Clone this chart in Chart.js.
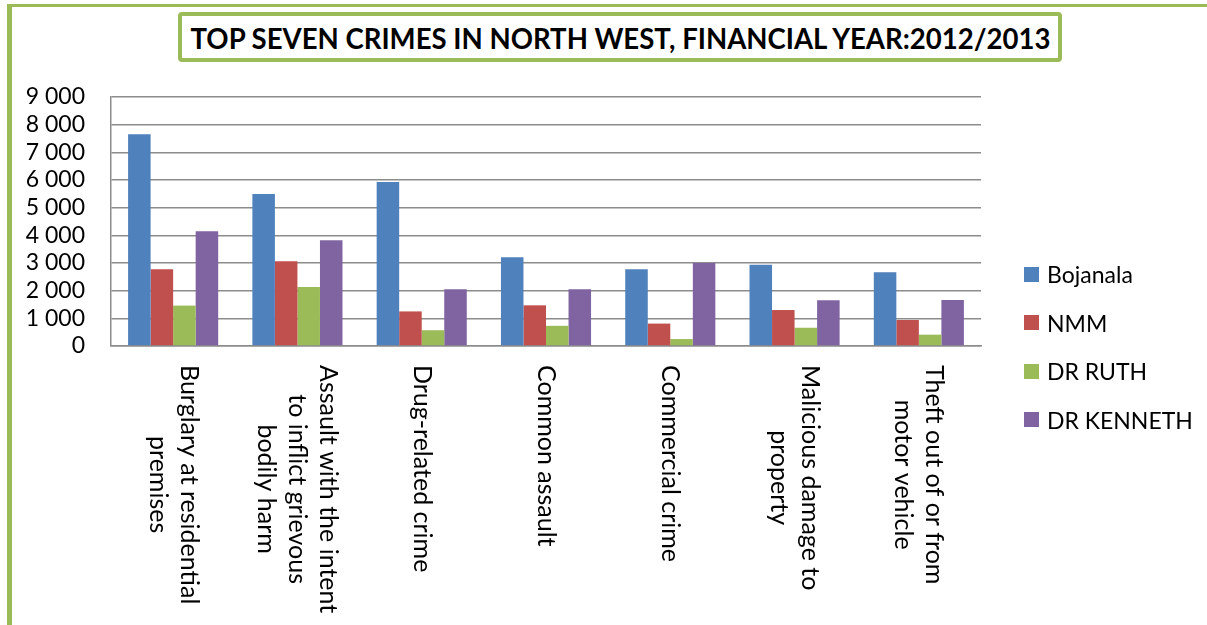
<!DOCTYPE html>
<html lang="en">
<head>
    <meta charset="UTF-8">
    <title>Top seven crimes in North West</title>
    <script src="https://cdn.jsdelivr.net/npm/chart.js"></script>
    <style>
        body {
            margin: 0;
            width: 1207px;
            height: 625px;
            overflow: hidden;
            background: #fff;
            font-family: Lato, "Open Sans", sans-serif;
            position: relative;
        }
        /* green frame round the whole chart, runs off the right edge */
        .frame {
            position: absolute;
            left: 7px;
            top: 4px;
            width: 1300px;
            height: 618px;
            border-left: 5px solid #9bbb59;
            border-top: 3px solid #9bbb59;
            border-bottom: 3px solid #9bbb59;
            box-sizing: content-box;
        }
        canvas {
            position: absolute;
            left: 0;
            top: 0;
        }
        .title-box {
            position: absolute;
            left: 178px;
            top: 12px;
            width: 884px;
            height: 50px;
            box-sizing: border-box;
            border: 4px solid #9bbb59;
            border-radius: 4px;
            background: #fff;
            display: flex;
            align-items: center;
            justify-content: center;
            overflow: hidden;
        }
        .title-box span {
            font-weight: bold;
            font-size: 29px;
            color: #000;
            white-space: nowrap;
            display: inline-block;
            transform-origin: center;
        }
        .legend {
            position: absolute;
            left: 1024px;
            top: 250px;
        }
        .legend div {
            height: 48.5px;
            display: flex;
            align-items: center;
            font-size: 23px;
            color: #000;
        }
        .legend i {
            width: 15px;
            height: 15px;
            margin-right: 8px;
            display: inline-block;
        }
    </style>
</head>
<body>
    <div class="frame"></div>
    <canvas id="crimeChart" width="1207" height="625"></canvas>
    <div class="title-box"><span id="title">TOP SEVEN CRIMES IN NORTH WEST, FINANCIAL YEAR:2012/2013</span></div>
    <div class="legend" id="legend"></div>

    <script>
        // categories (already split into lines the way they wrap in the picture)
        const categories = [
            ['Burglary at residential', 'premises'],
            ['Assault with the intent', 'to inflict grievous', 'bodily harm'],
            ['Drug-related crime'],
            ['Common assault'],
            ['Commercial crime'],
            ['Malicious damage to', 'property'],
            ['Theft out of or from', 'motor vehicle']
        ];

        const bojanala   = [7650, 5490, 5930, 3210, 2770, 2940, 2670];
        const nmm        = [2770, 3060, 1250, 1470,  810, 1300,  940];
        const drRuth     = [1460, 2130,  570,  730,  250,  660,  410];
        const drKenneth  = [4150, 3820, 2050, 2050, 3000, 1650, 1660];

        const seriesNames  = ['Bojanala', 'NMM', 'DR RUTH', 'DR KENNETH'];
        const seriesColors = ['#4f81bd', '#c0504d', '#9bbb59', '#8064a2'];
        const yTicks = [0, 1000, 2000, 3000, 4000, 5000, 6000, 7000, 8000, 9000];

        // squeeze the title to the width it has in the original
        const title = document.getElementById('title');
        title.style.transform = 'scaleX(' + (860 / title.offsetWidth) + ')';

        // legend
        const legend = document.getElementById('legend');
        seriesNames.forEach((name, i) => {
            const row = document.createElement('div');
            row.innerHTML = '<i style="background:' + seriesColors[i] + '"></i>' + name;
            legend.appendChild(row);
        });

        function spaced(v) {
            return String(v).replace(/\B(?=(\d{3})+(?!\d))/g, ' ');
        }

        // draws the category names turned 90 degrees, reading downwards
        const verticalLabels = {
            id: 'verticalLabels',
            afterDraw(chart) {
                const ctx = chart.ctx;
                const xScale = chart.scales.x;
                const labelTop = 365;
                const lineGap = 31;
                ctx.save();
                ctx.font = '25px Lato, "Open Sans", sans-serif';
                ctx.fillStyle = '#000';
                categories.forEach((lines, i) => {
                    const x = xScale.getPixelForValue(i);
                    const maxW = Math.max(...lines.map(l => ctx.measureText(l).width));
                    ctx.save();
                    ctx.translate(x, labelTop + maxW / 2);
                    ctx.rotate(Math.PI / 2);
                    ctx.textAlign = 'center';
                    ctx.textBaseline = 'middle';
                    lines.forEach((l, j) => {
                        ctx.fillText(l, 0, (j - (lines.length - 1) / 2) * lineGap);
                    });
                    ctx.restore();
                });
                ctx.restore();
            }
        };

        const ctx = document.getElementById('crimeChart').getContext('2d');
        new Chart(ctx, {
            type: 'bar',
            data: {
                labels: categories,
                datasets: [bojanala, nmm, drRuth, drKenneth].map((data, i) => ({
                    label: seriesNames[i],
                    data: data,
                    backgroundColor: seriesColors[i],
                    barPercentage: 1,
                    categoryPercentage: 0.725
                }))
            },
            options: {
                responsive: false,
                animation: false,
                layout: {
                    padding: { left: 0, top: 97, right: 226, bottom: 279 }
                },
                plugins: {
                    legend: { display: false },
                    title: { display: false },
                    tooltip: { enabled: false }
                },
                scales: {
                    x: {
                        afterFit(scale) { scale.height = 0; },
                        ticks: { display: false },
                        grid: { display: false },
                        border: { display: true, color: '#8c8c8c', width: 1.5 }
                    },
                    y: {
                        min: 0,
                        max: 9000,
                        afterFit(scale) { scale.width = 111; },
                        afterBuildTicks(scale) {
                            scale.ticks = yTicks.map(v => ({ value: v }));
                        },
                        ticks: {
                            autoSkip: false,
                            padding: 26,
                            color: '#000',
                            font: { family: 'Lato, "Open Sans", sans-serif', size: 23 },
                            callback: v => spaced(v)
                        },
                        grid: { color: '#8c8c8c', lineWidth: 1.5, drawTicks: false },
                        border: { display: true, color: '#8c8c8c', width: 1.5 }
                    }
                }
            },
            plugins: [verticalLabels]
        });
    </script>
</body>
</html>
